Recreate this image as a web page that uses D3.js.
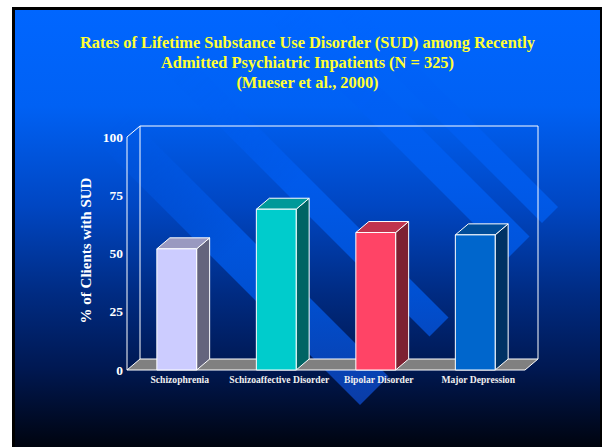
<!DOCTYPE html>
<html>
<head>
<meta charset="utf-8">
<script src="https://cdn.jsdelivr.net/npm/d3@7"></script>
<style>
  html, body { margin: 0; padding: 0; background: #ffffff; }
  svg { display: block; }
  text { font-family: "Liberation Serif", "Times New Roman", serif; font-weight: bold; }
</style>
</head>
<body>
<svg id="chart" width="602" height="447"></svg>
<script>
// ---- data ----
const categories = ["Schizophrenia", "Schizoaffective Disorder", "Bipolar Disorder", "Major Depression"];
const sudRates = [52, 69, 59, 58];
const yTicks = [0, 25, 50, 75, 100];
const barColors = ["#CCCCFF", "#00CCCC", "#FF4466", "#0066CC"];
const titleLines = [
  "Rates of Lifetime Substance Use Disorder (SUD) among Recently",
  "Admitted Psychiatric Inpatients (N = 325)",
  "(Mueser et al., 2000)"
];
const yAxisTitle = "% of Clients with SUD";

// ---- layout ----
const W = 602, H = 447;
const slide = { x: 15, y: 10, w: 585, h: 437 };
const plot = { left: 127, right: 525, top: 137, bottom: 370 };
const depth = { dx: 13, dy: -11 };

const svg = d3.select("#chart");
const defs = svg.append("defs");

// slide background gradient
const bg = defs.append("linearGradient").attr("id", "bgGrad")
  .attr("gradientUnits", "userSpaceOnUse")
  .attr("x1", 0).attr("y1", slide.y).attr("x2", 0).attr("y2", H);
[[0, "#0066FF"], [0.22, "#0061F4"], [0.45, "#0046C2"], [0.65, "#002B82"], [0.82, "#001852"], [1, "#00040F"]]
  .forEach(([o, c]) => bg.append("stop").attr("offset", o).attr("stop-color", c));

const st = defs.append("linearGradient").attr("id", "stripeGrad")
  .attr("gradientUnits", "userSpaceOnUse")
  .attr("x1", 0).attr("y1", slide.y).attr("x2", 0).attr("y2", H);
[[0, "#0066FF"], [0.4, "#005AEA"], [0.65, "#0050D2"], [0.88, "#0A3EAA"], [1, "#083290"]]
  .forEach(([o, c]) => st.append("stop").attr("offset", o).attr("stop-color", c));

// ribbons fade out toward the upper-left
const fade = defs.append("linearGradient").attr("id", "fadeGrad")
  .attr("gradientUnits", "userSpaceOnUse")
  .attr("x1", 120).attr("y1", 120).attr("x2", 240).attr("y2", 240);
fade.append("stop").attr("offset", 0).attr("stop-color", "#fff").attr("stop-opacity", 0);
fade.append("stop").attr("offset", 1).attr("stop-color", "#fff").attr("stop-opacity", 1);
defs.append("mask").attr("id", "fadeMask")
  .attr("maskUnits", "userSpaceOnUse").attr("x", 0).attr("y", 0).attr("width", W).attr("height", H)
  .append("rect").attr("width", W).attr("height", H).attr("fill", "url(#fadeGrad)");

defs.append("clipPath").attr("id", "slideClip")
  .append("rect").attr("x", slide.x).attr("y", slide.y).attr("width", slide.w).attr("height", slide.h);

// slide frame
svg.append("rect").attr("x", 12).attr("y", 7).attr("width", 590).attr("height", 445).attr("fill", "#000");
svg.append("rect").attr("x", slide.x).attr("y", slide.y).attr("width", slide.w).attr("height", slide.h)
  .attr("fill", "url(#bgGrad)");

// diagonal ribbons of the backdrop: bands between lines y - x = c1 and y - x = c2, ending at x + y = cap
const ribbons = [
  { c1: -12, c2: 45, cap: 765 },
  { c1: -131, c2: -93, cap: 766 },
  { c1: -293, c2: -250, cap: 766 },
  { c1: -351, c2: -319, cap: 765 }
];
const ribbonPath = r => {
  const far = -1200;
  const p = (c, s) => [(s - c) / 2, (s + c) / 2];
  return d3.line()([p(r.c1, far), p(r.c1, r.cap), p(r.c2, r.cap), p(r.c2, far)]) + "Z";
};
svg.append("g").attr("clip-path", "url(#slideClip)")
  .append("g").attr("mask", "url(#fadeMask)")
  .selectAll("path").data(ribbons).join("path")
  .attr("d", ribbonPath)
  .attr("fill", "url(#stripeGrad)");

// title
svg.append("g").selectAll("text").data(titleLines).join("text")
  .attr("x", 307.5)
  .attr("y", (d, i) => 48 + i * 20)
  .attr("text-anchor", "middle")
  .attr("fill", "#FFFF33")
  .attr("font-size", 16.4)
  .text(d => d);

// scales
const x = d3.scaleBand().domain(categories).range([plot.left, plot.right]).padding(0);
const y = d3.scaleLinear().domain([0, 100]).range([plot.bottom, plot.top]);
const barW = x.bandwidth() * 0.4;

const applyEdge = s => s.attr("stroke", "#FFFFFF").attr("stroke-width", 1).attr("stroke-linejoin", "round");

// back wall & left wall outlines
const frame = svg.append("g").attr("fill", "none");
applyEdge(frame.append("path").attr("d", d3.line()([
  [plot.left + depth.dx, y(0) + depth.dy],
  [plot.left + depth.dx, y(100) + depth.dy],
  [plot.right + depth.dx, y(100) + depth.dy],
  [plot.right + depth.dx, y(0) + depth.dy]
])));
applyEdge(frame.append("path").attr("d", d3.line()([
  [plot.left, y(0)],
  [plot.left, y(100)],
  [plot.left + depth.dx, y(100) + depth.dy]
])));

// floor
applyEdge(svg.append("path").attr("d", d3.line()([
  [plot.left, y(0)],
  [plot.left + depth.dx, y(0) + depth.dy],
  [plot.right + depth.dx, y(0) + depth.dy],
  [plot.right, y(0)]
]) + "Z").attr("fill", "#808080"));

// bars: front face, top and right side
const bars = svg.append("g").selectAll("g").data(categories.map((c, i) => ({ c, v: sudRates[i], col: barColors[i] })))
  .join("g");
bars.each(function (d) {
  const g = d3.select(this);
  const x0 = x(d.c) + (x.bandwidth() - barW) / 2, x1 = x0 + barW;
  const yt = y(d.v), yb = y(0);
  const base = d3.color(d.col);
  applyEdge(g.append("path").attr("fill", base.darker(2).formatHex()).attr("d", d3.line()([
    [x1, yb], [x1 + depth.dx, yb + depth.dy], [x1 + depth.dx, yt + depth.dy], [x1, yt]
  ]) + "Z"));
  applyEdge(g.append("path").attr("fill", base.darker(0.8).formatHex()).attr("d", d3.line()([
    [x0, yt], [x0 + depth.dx, yt + depth.dy], [x1 + depth.dx, yt + depth.dy], [x1, yt]
  ]) + "Z"));
  applyEdge(g.append("rect").attr("x", x0).attr("y", yt).attr("width", barW).attr("height", yb - yt)
    .attr("fill", d.col));
});

// value axis labels
svg.append("g").selectAll("text").data(yTicks).join("text")
  .attr("x", 123)
  .attr("y", d => y(d))
  .attr("dy", "0.34em")
  .attr("text-anchor", "end")
  .attr("fill", "#FFFFFF")
  .attr("font-size", 13.5)
  .text(d => d);

// category labels
svg.append("g").selectAll("text").data(categories).join("text")
  .attr("x", d => x(d) + x.bandwidth() / 2 + 3)
  .attr("y", 383)
  .attr("text-anchor", "middle")
  .attr("fill", "#F0F0F0")
  .attr("font-size", 9.6)
  .text(d => d);

// value axis title
svg.append("text")
  .attr("transform", "translate(91,250.5) rotate(-90)")
  .attr("text-anchor", "middle")
  .attr("fill", "#FFFFFF")
  .attr("font-size", 15)
  .text(yAxisTitle);
</script>
</body>
</html>
